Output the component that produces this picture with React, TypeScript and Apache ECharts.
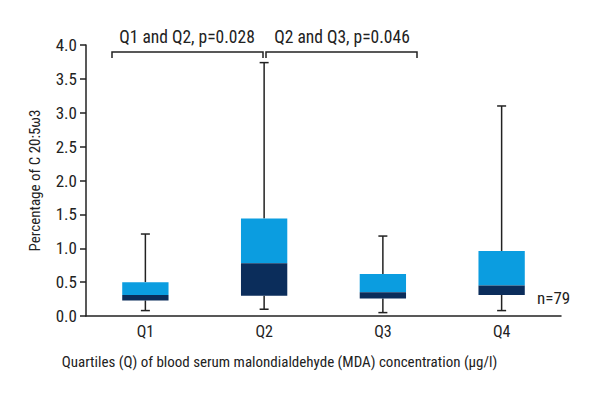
import React, { useEffect, useRef } from "react";
import * as echarts from "echarts";

const categories = ["Q1", "Q2", "Q3", "Q4"];
const whiskerLow = [0.08, 0.1, 0.05, 0.08];
const boxLow = [0.23, 0.3, 0.26, 0.31];
const medians = [0.31, 0.78, 0.35, 0.45];
const boxHigh = [0.5, 1.44, 0.62, 0.96];
const whiskerHigh = [1.21, 3.74, 1.18, 3.1];
const yTicks = [0, 0.5, 1, 1.5, 2, 2.5, 3, 3.5, 4];

const FONT = '"Roboto Condensed", "DejaVu Sans Condensed", sans-serif';
const LIGHT = "#0b9de0";
const DARK = "#0b2d5b";
const INK = "#222222";

export default function App() {
  const ref = useRef<HTMLDivElement>(null);
  useEffect(() => {
    if (!ref.current) return;
    const chart = echarts.init(ref.current, null, { renderer: "svg" });
    const data = categories.map((_, i) => [i, whiskerLow[i], boxLow[i], medians[i], boxHigh[i], whiskerHigh[i]]);
    chart.setOption({
      animation: false,
      backgroundColor: "#ffffff",
      textStyle: { fontFamily: FONT },
      grid: { left: 86, right: 39, top: 45, bottom: 84 },
      xAxis: {
        type: "category",
        data: categories,
        name: "Quartiles (Q) of blood serum malondialdehyde (MDA) concentration (μg/l)",
        nameLocation: "middle",
        nameGap: 38,
        nameTextStyle: { fontFamily: FONT, fontSize: 15, color: INK, padding: [0, 88, 0, 0] },
        axisLine: { lineStyle: { color: INK, width: 1.5 } },
        axisTick: { show: false },
        axisLabel: { fontFamily: FONT, fontSize: 16, color: INK, margin: 7 },
      },
      yAxis: {
        type: "value",
        min: yTicks[0],
        max: yTicks[yTicks.length - 1],
        interval: 0.5,
        name: "Percentage of C 20:5ω3",
        nameLocation: "middle",
        nameGap: 44,
        nameTextStyle: { fontFamily: FONT, fontSize: 15, color: INK },
        axisLine: { show: true, lineStyle: { color: INK, width: 1.5 } },
        axisTick: { show: true, length: 6, lineStyle: { color: INK, width: 1.5 } },
        splitLine: { show: false },
        axisLabel: {
          fontFamily: FONT,
          fontSize: 17,
          color: INK,
          margin: 9,
          formatter: (v: number) => v.toFixed(1),
        },
      },
      series: [
        {
          type: "custom",
          data,
          encode: { x: 0, y: [1, 2, 3, 4, 5] },
          renderItem: (params: any, api: any) => {
            const idx = api.value(0);
            const band = api.size([1, 0])[0];
            const bw = band * 0.39;
            const cap = 9;
            const pMin = api.coord([idx, api.value(1)]);
            const pQ1 = api.coord([idx, api.value(2)]);
            const pMed = api.coord([idx, api.value(3)]);
            const pQ3 = api.coord([idx, api.value(4)]);
            const pMax = api.coord([idx, api.value(5)]);
            const cx = pMin[0];
            const ls = { stroke: INK, lineWidth: 1.5 };
            return {
              type: "group",
              children: [
                { type: "line", shape: { x1: cx, y1: pMax[1], x2: cx, y2: pQ3[1] }, style: ls },
                { type: "line", shape: { x1: cx - cap / 2, y1: pMax[1], x2: cx + cap / 2, y2: pMax[1] }, style: ls },
                { type: "line", shape: { x1: cx, y1: pQ1[1], x2: cx, y2: pMin[1] }, style: ls },
                { type: "line", shape: { x1: cx - cap / 2, y1: pMin[1], x2: cx + cap / 2, y2: pMin[1] }, style: ls },
                {
                  type: "rect",
                  shape: { x: cx - bw / 2, y: pQ3[1], width: bw, height: pMed[1] - pQ3[1] },
                  style: { fill: LIGHT },
                },
                {
                  type: "rect",
                  shape: { x: cx - bw / 2, y: pMed[1], width: bw, height: pQ1[1] - pMed[1] },
                  style: { fill: DARK },
                },
              ],
            };
          },
        },
      ],
      graphic: [
        {
          type: "polyline",
          shape: { points: [[112, 58], [112, 52], [263, 52], [263, 58]] },
          style: { stroke: INK, lineWidth: 1.5, fill: "none" },
        },
        {
          type: "polyline",
          shape: { points: [[266, 58], [266, 52], [417, 52], [417, 58]] },
          style: { stroke: INK, lineWidth: 1.5, fill: "none" },
        },
        {
          type: "text",
          x: 187,
          y: 37,
          style: {
            text: "Q1 and Q2, p=0.028",
            fontFamily: FONT,
            fontSize: 17.5,
            fill: INK,
            align: "center",
            verticalAlign: "middle",
          },
        },
        {
          type: "text",
          x: 342,
          y: 37,
          style: {
            text: "Q2 and Q3, p=0.046",
            fontFamily: FONT,
            fontSize: 17.5,
            fill: INK,
            align: "center",
            verticalAlign: "middle",
          },
        },
        {
          type: "text",
          x: 537,
          y: 298,
          style: {
            text: "n=79",
            fontFamily: FONT,
            fontSize: 17,
            fill: INK,
            align: "left",
            verticalAlign: "middle",
          },
        },
      ],
    });
    return () => chart.dispose();
  }, []);
  return <div ref={ref} style={{ width: 600, height: 400, position: "absolute", left: 0, top: 0 }} />;
}
